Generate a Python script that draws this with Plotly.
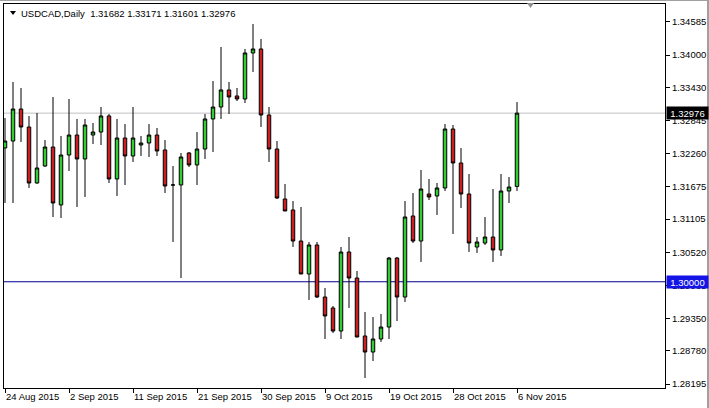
import plotly.graph_objects as go

dates = [
    "2015-08-24", "2015-08-25", "2015-08-26", "2015-08-27", "2015-08-28", "2015-08-30", "2015-08-31",
    "2015-09-01", "2015-09-02", "2015-09-03", "2015-09-04", "2015-09-06", "2015-09-07", "2015-09-08",
    "2015-09-09", "2015-09-10", "2015-09-11", "2015-09-13", "2015-09-14", "2015-09-15", "2015-09-16",
    "2015-09-17", "2015-09-18", "2015-09-20", "2015-09-21", "2015-09-22", "2015-09-23", "2015-09-24",
    "2015-09-25", "2015-09-27", "2015-09-28", "2015-09-29", "2015-09-30",
    "2015-10-01", "2015-10-02", "2015-10-04", "2015-10-05", "2015-10-06", "2015-10-07", "2015-10-08",
    "2015-10-09", "2015-10-11", "2015-10-12", "2015-10-13", "2015-10-14", "2015-10-15", "2015-10-16",
    "2015-10-18", "2015-10-19", "2015-10-20", "2015-10-21", "2015-10-22", "2015-10-23", "2015-10-25",
    "2015-10-26", "2015-10-27", "2015-10-28", "2015-10-29", "2015-10-30",
    "2015-11-01", "2015-11-02", "2015-11-03", "2015-11-04", "2015-11-05", "2015-11-06",
]

open_ = [
    1.32361, 1.32484, 1.33049, 1.32731, 1.31743, 1.32043, 1.32378, 1.31355, 1.32237, 1.32590,
    1.32167, 1.32590, 1.32643, 1.32926, 1.31814, 1.32537, 1.32220, 1.32414, 1.32449, 1.32590,
    1.32326, 1.31708, 1.31708, 1.32273, 1.32061, 1.32343, 1.32873, 1.33084, 1.33385, 1.33279,
    1.33226, 1.34038, 1.34108, 1.32943, 1.32343, 1.31461, 1.31267, 1.30719, 1.30137, 1.30649,
    1.29731, 1.29537, 1.29131, 1.30525, 1.30066, 1.29043, 1.28760, 1.28990, 1.29201, 1.30419,
    1.29731, 1.31161, 1.30719, 1.31549, 1.31514, 1.31655, 1.32696, 1.32096, 1.31549, 1.30613,
    1.30684, 1.30790, 1.30561, 1.31602, 1.31682,
]
high = [
    1.32890, 1.33526, 1.33420, 1.32926, 1.32979, 1.32502, 1.33261, 1.32573, 1.33226, 1.32873,
    1.32873, 1.32802, 1.33084, 1.32961, 1.32873, 1.32784, 1.33084, 1.32573, 1.32784, 1.32714,
    1.32502, 1.32043, 1.32273, 1.32290, 1.32643, 1.32961, 1.33543, 1.34143, 1.33526, 1.33420,
    1.34108, 1.34549, 1.34285, 1.33084, 1.32484, 1.31725, 1.31425, 1.31319, 1.30702, 1.30702,
    1.29890, 1.29572, 1.30613, 1.30790, 1.30190, 1.29466, 1.29378, 1.29431, 1.30437, 1.30437,
    1.31425, 1.31567, 1.31973, 1.31814, 1.31743, 1.32784, 1.32767, 1.32361, 1.31902, 1.30790,
    1.31143, 1.31637, 1.31902, 1.31849, 1.33171,
]
low = [
    1.31390, 1.31390, 1.32467, 1.31655, 1.31730, 1.32025, 1.31143, 1.31125, 1.31955, 1.31319,
    1.31496, 1.32431, 1.32414, 1.31743, 1.31514, 1.31708, 1.32114, 1.32220, 1.32202, 1.32220,
    1.31567, 1.30702, 1.30066, 1.32025, 1.31708, 1.32167, 1.32290, 1.32873, 1.32961, 1.33190,
    1.33155, 1.33702, 1.32731, 1.32114, 1.31461, 1.31249, 1.30613, 1.30137, 1.29678, 1.29713,
    1.28990, 1.29096, 1.28990, 1.29537, 1.29020, 1.28301, 1.28601, 1.28937, 1.28990, 1.29307,
    1.29643, 1.30684, 1.30349, 1.31443, 1.31178, 1.31602, 1.30843, 1.31302, 1.30525, 1.30508,
    1.30649, 1.30349, 1.30455, 1.31390, 1.31601,
]
close = [
    1.32484, 1.33049, 1.32731, 1.31743, 1.32008, 1.32378, 1.31390, 1.32237, 1.32590, 1.32167,
    1.32767, 1.32643, 1.32926, 1.31814, 1.32537, 1.32220, 1.32537, 1.32449, 1.32590, 1.32308,
    1.31690, 1.31708, 1.32202, 1.32061, 1.32343, 1.32873, 1.33084, 1.33385, 1.33261, 1.33226,
    1.34038, 1.34108, 1.32943, 1.32343, 1.31478, 1.31249, 1.30719, 1.30137, 1.30649, 1.29731,
    1.29396, 1.29131, 1.30525, 1.30066, 1.29025, 1.28760, 1.28990, 1.29201, 1.30419, 1.29731,
    1.31143, 1.30719, 1.31637, 1.31496, 1.31655, 1.32696, 1.32096, 1.31549, 1.30684, 1.30702,
    1.30790, 1.30561, 1.31602, 1.31672, 1.32976,
]

x_tick_dates = ["2015-08-24", "2015-09-02", "2015-09-11", "2015-09-21", "2015-09-30",
                "2015-10-09", "2015-10-19", "2015-10-28", "2015-11-06"]
x_tick_labels = ["24 Aug 2015", "2 Sep 2015", "11 Sep 2015", "21 Sep 2015", "30 Sep 2015",
                 "9 Oct 2015", "19 Oct 2015", "28 Oct 2015", "6 Nov 2015"]
y_tick_values = [1.34585, 1.34000, 1.33430, 1.32845, 1.32260, 1.31675, 1.31105,
                 1.30520, 1.29935, 1.29350, 1.28780, 1.28195]
y_tick_labels = ["%.5f" % v for v in y_tick_values]

symbol_title = "USDCAD,Daily"
bid_price = close[-1]
level_price = 1.30000

FONT = "Liberation Sans, Arial, sans-serif"
FS = 9.5

xi = list(range(len(dates)))
tickvals = [dates.index(d) for d in x_tick_dates]

fig = go.Figure()
fig.add_trace(go.Candlestick(
    x=xi, open=open_, high=high, low=low, close=close,
    increasing=dict(line=dict(color="black", width=1), fillcolor="#32CD32"),
    decreasing=dict(line=dict(color="black", width=1), fillcolor="#CC2020"),
    whiskerwidth=0, hoverinfo="skip", showlegend=False,
))

W, H = 709, 408
L, R, T, B = 4, 44, 4, 20
pw, ph = W - L - R, H - T - B


def px(x):
    return (x - L) / pw


def py(y):
    return (H - B - y) / ph


shapes = [
    dict(type="line", xref="paper", yref="y", x0=0, x1=1, y0=bid_price, y1=bid_price,
         line=dict(color="#C0C0C0", width=1), layer="below"),
    dict(type="line", xref="paper", yref="y", x0=0, x1=1, y0=level_price, y1=level_price,
         line=dict(color="#000090", width=1), layer="below"),
    dict(type="path", xref="paper", yref="paper",
         path="M %f,%f L %f,%f L %f,%f Z" % (px(10), py(11), px(16), py(11), px(13), py(15)),
         fillcolor="black", line=dict(width=0)),
    dict(type="path", xref="paper", yref="paper",
         path="M %f,%f L %f,%f L %f,%f Z" % (px(527), py(3), px(534), py(3), px(530.5), py(8)),
         fillcolor="#909090", line=dict(width=0)),
    dict(type="line", xref="paper", yref="paper", x0=px(0), x1=px(709), y0=py(0.5), y1=py(0.5),
         line=dict(color="#A0A0A0", width=1)),
    dict(type="line", xref="paper", yref="paper", x0=px(708), x1=px(708), y0=py(0), y1=py(408),
         line=dict(color="#A0A0A0", width=2)),
]

title_text = "%s  %.5f %.5f %.5f %.5f" % (symbol_title, open_[-1], high[-1], low[-1], close[-1])

annotations = [
    dict(xref="paper", yref="paper", x=px(19), y=py(13), xanchor="left", yanchor="middle",
         text=title_text, showarrow=False, font=dict(family=FONT, size=FS, color="black")),
    dict(xref="paper", yref="y", x=1, y=bid_price, xanchor="left", yanchor="middle", xshift=1,
         text="%.5f" % bid_price, showarrow=False, bgcolor="black", width=41, height=12,
         borderpad=0, font=dict(family=FONT, size=FS, color="white")),
    dict(xref="paper", yref="y", x=1, y=level_price, xanchor="left", yanchor="middle", xshift=1,
         text="%.5f" % level_price, showarrow=False, bgcolor="#1414E6", width=41, height=12,
         borderpad=0, font=dict(family=FONT, size=FS, color="white")),
]

fig.update_layout(
    width=W, height=H,
    margin=dict(l=L, r=R, t=T, b=B, pad=0, autoexpand=False),
    paper_bgcolor="white", plot_bgcolor="white",
    boxgap=0.38,
    hovermode=False,
    shapes=shapes, annotations=annotations,
    font=dict(family=FONT, size=FS, color="black"),
    xaxis=dict(
        range=[-0.125, 82.5], rangeslider=dict(visible=False), automargin=False,
        tickmode="array", tickvals=tickvals, ticktext=x_tick_labels,
        ticks="outside", ticklen=4, tickcolor="black", tickwidth=1,
        ticklabelposition="outside right",
        showgrid=False, zeroline=False, showline=True, linecolor="black", linewidth=1,
        mirror=True, tickfont=dict(family=FONT, size=FS, color="black"),
    ),
    yaxis=dict(
        side="right", range=[1.28125, 1.34902], automargin=False,
        tickmode="array", tickvals=y_tick_values, ticktext=y_tick_labels,
        ticks="outside", ticklen=4, tickcolor="black", tickwidth=1,
        showgrid=False, zeroline=False, showline=True, linecolor="black", linewidth=1,
        mirror=True, tickfont=dict(family=FONT, size=FS, color="black"),
    ),
)

fig.write_html(
    "out.html",
    config={"displayModeBar": False},
    post_script="document.body.style.margin='0';document.body.style.padding='0';"
                "document.documentElement.style.overflow='hidden';",
)
